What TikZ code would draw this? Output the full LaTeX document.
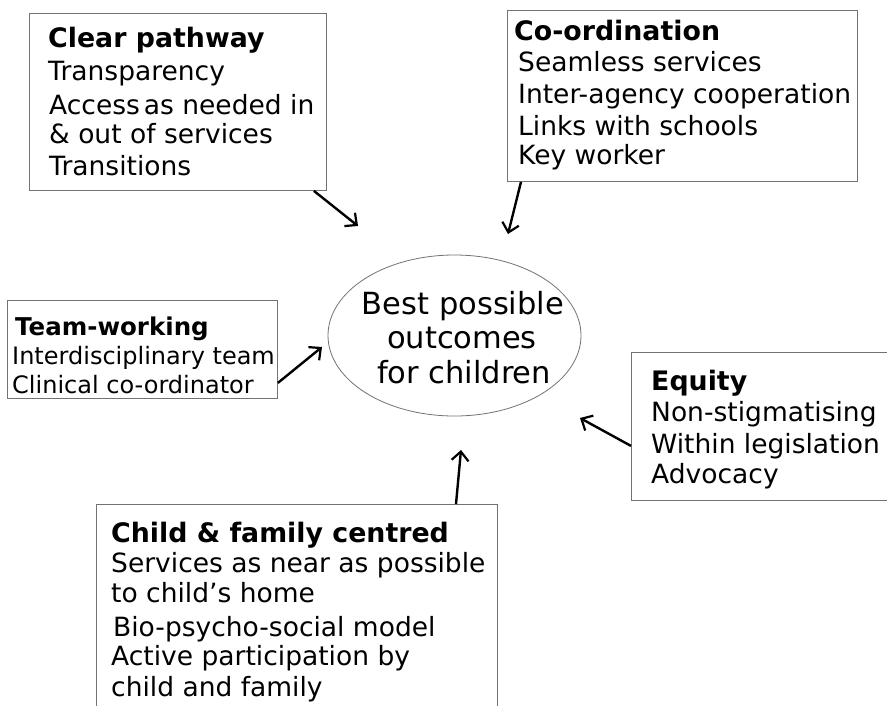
\documentclass[tikz,border=0pt]{standalone}
\usepackage{fontspec}
\setmainfont{DejaVu Sans}
\usetikzlibrary{arrows.meta,shapes.geometric}
\begin{document}
\begin{tikzpicture}[x=1pt,y=-1pt,
  box/.style={draw=black!55, line width=0.9pt, anchor=north west, inner sep=0pt, rectangle},
  ln/.style={anchor=base west, inner sep=0pt, font=\fontsize{26.5}{30}\selectfont},
  hd/.style={anchor=base west, inner sep=0pt, font=\fontsize{26.8}{30}\selectfont\bfseries},
  sln/.style={anchor=base west, inner sep=0pt, font=\fontsize{24}{28}\selectfont},
  shd/.style={anchor=base west, inner sep=0pt, font=\fontsize{24.5}{28}\selectfont\bfseries},
  cln/.style={anchor=base, inner sep=0pt, font=\fontsize{30.5}{34}\selectfont},
  arr/.style={line width=2.4pt, -{Straight Barb[length=9pt,width=17pt,line width=2.2pt]}}
]
\useasboundingbox (0,0) rectangle (887,705);
\fill[white] (0,0) rectangle (887,705);

% boxes
\node[box, minimum width=297pt, minimum height=177pt] (clear) at (29,13) {};
\node[box, minimum width=350pt, minimum height=171pt] (coord) at (507,10) {};
\node[box, minimum width=270pt, minimum height=98pt] (team) at (7,300) {};
\node[box, minimum width=270pt, minimum height=148pt] (equity) at (631,352) {};
\node[box, minimum width=401pt, minimum height=220pt] (child) at (96,504) {};
\node[draw=black!55, line width=0.8pt, ellipse, minimum width=253pt, minimum height=161pt, inner sep=0pt] (goal) at (454.5,335.5) {};

% Clear pathway
\node[hd] (c0) at (48,47) {Clear pathway};
\node[ln] (c1) at (48,80) {Transparency};
\node[ln] (c2) at (49,114) {Access\hspace{4pt}as needed in};
\node[ln] (c3) at (49,143) {\& out of services};
\node[ln] (c4) at (49,175) {Transitions};

% Co-ordination
\node[hd] (o0) at (514,40) {Co-ordination};
\node[ln] (o1) at (518,71) {Seamless services};
\node[ln] (o2) at (518,103) {Inter-agency cooperation};
\node[ln] (o3) at (518,135) {Links with schools};
\node[ln] (o4) at (518,164) {Key worker};

% Team-working
\node[shd] (t0) at (15,335) {Team-working};
\node[sln] (t1) at (12,364) {Interdisciplinary team};
\node[sln] (t2) at (12,393) {Clinical co-ordinator};

% Goal
\node[cln] (g0) at (463,314) {Best possible};
\node[cln] (g1) at (462,348) {outcomes};
\node[cln] (g2) at (464,383) {for children};

% Equity
\node[hd] (e0) at (651,390) {Equity};
\node[ln] (e1) at (651,421) {Non-stigmatising};
\node[ln] (e2) at (651,453) {Within legislation};
\node[ln] (e3) at (651,483) {Advocacy};

% Child & family
\node[hd] (f0) at (111,542) {Child \& family centred};
\node[ln] (f1) at (111,572) {Services as near as possible};
\node[ln] (f2) at (111,602) {to child’s home};
\node[ln] (f3) at (113,636) {Bio-psycho-social model};
\node[ln] (f4) at (111,665) {Active participation by};
\node[ln] (f5) at (111,696) {child and family};

% arrow ends
\coordinate (aclear) at (358,226);
\coordinate (acoord) at (508,234);
\coordinate (ateam) at (322,347);
\coordinate (aequity) at (580,418);
\coordinate (achild) at (461,450);

\draw[arr] ([xshift=-13pt]clear.south east) -- (aclear);
\draw[arr] ([xshift=14pt]coord.south west) -- (acoord);
\draw[arr] ([yshift=16pt]team.south east) -- (ateam);
\draw[arr] ([yshift=55pt]equity.south west) -- (aequity);
\draw[arr] ([xshift=360pt]child.north west) -- (achild);
\end{tikzpicture}
\end{document}
